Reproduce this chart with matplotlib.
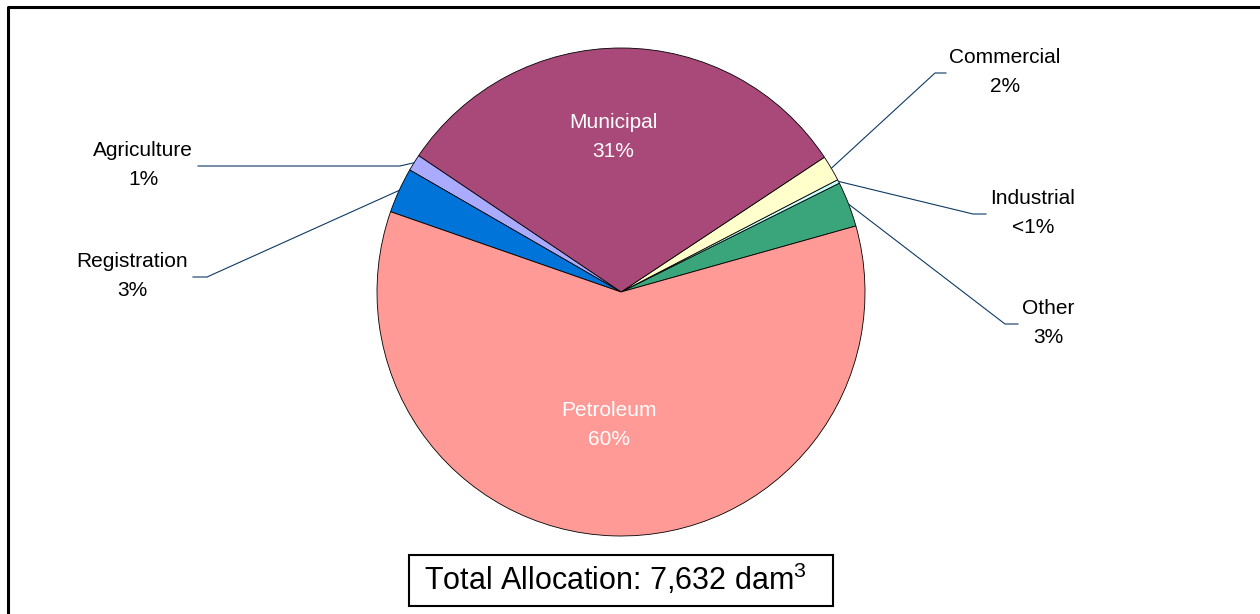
import numpy as np
import matplotlib.pyplot as plt
from matplotlib.lines import Line2D
from matplotlib.patches import Rectangle

plt.rcParams['font.family'] = ['Liberation Sans', 'DejaVu Sans']
plt.rcParams['mathtext.fontset'] = 'custom'
plt.rcParams['mathtext.rm'] = 'Liberation Sans'

# water allocation by purpose (dam3), counter-clockwise from the 3 o'clock side
sectors = ['Other', 'Industrial', 'Commercial', 'Municipal', 'Agriculture', 'Registration', 'Petroleum']
volumes = [229, 19, 130, 2385, 84, 229, 4556]
colors = ['#3AA57A', '#CCFFFF', '#FFFFCC', '#A9497A', '#AAAAFF', '#0074D9', '#FF9A96']
total = sum(volumes)

W, H = 1260, 614
fig = plt.figure(figsize=(W / 100, H / 100), dpi=100)
ax = fig.add_axes([0, 0, 1, 1])

# work in pixel units, y measured from the top
def yp(y):
    return H - y

cx, cy, R = 621, yp(292), 244
wedges, _ = ax.pie(volumes, colors=colors, startangle=15.7, center=(cx, cy), radius=R,
                   frame=True, wedgeprops=dict(edgecolor='black', linewidth=0.6))
ax.set_xlim(0, W)
ax.set_ylim(0, H)
ax.axis('off')


def pct_label(v):
    p = 100 * v / total
    return '<1%' if p < 1 else f'{p:.0f}%'


def mid_angle(w):
    return np.deg2rad((w.theta1 + w.theta2) / 2)


# labels inside the two big slices
inside = {'Municipal': 0.635, 'Petroleum': 0.545}
for name, frac in inside.items():
    i = sectors.index(name)
    a = mid_angle(wedges[i])
    ax.text(cx - 8 + frac * R * np.cos(a), cy + frac * R * np.sin(a),
            f'{name}\n{pct_label(volumes[i])}', color='white', fontsize=15,
            ha='center', va='center', linespacing=1.7)

# outside labels: text centre, elbow x, end x (pixels)
outside = {
    'Commercial': (1005, 72, 935, 946),
    'Industrial': (1033, 213, 973, 986),
    'Other': (1048, 323, 1005, 1018),
    'Agriculture': (143, 165, 400, 198),
    'Registration': (132, 276, 207, 193),
}
leader = '#0E3A63'
for name, (tx, ty, ex, end) in outside.items():
    i = sectors.index(name)
    a = mid_angle(wedges[i])
    px, py = cx + R * np.cos(a), cy + R * np.sin(a)
    ax.add_line(Line2D([px, ex, end], [py, yp(ty + 1), yp(ty + 1)], color=leader, lw=0.8))
    ax.text(tx, yp(ty), f'{name}\n{pct_label(volumes[i])}', color='black', fontsize=15,
            ha='center', va='center', linespacing=1.7)

# total box
ax.add_patch(Rectangle((409, yp(606)), 424, 51, fill=False, edgecolor='black', lw=1.5))
ax.text(424, yp(579), f'Total Allocation: {total:,} dam$^{{\\mathregular{{3}}}}$',
        fontsize=22, ha='left', va='center')

# outer frame (only top and left edges fall inside the image)
ax.add_line(Line2D([7.5, 7.5, W + 10], [-10, yp(7), yp(7)], color='black', lw=2.2,
                   clip_on=False))

fig.savefig('out.png', dpi=100)
